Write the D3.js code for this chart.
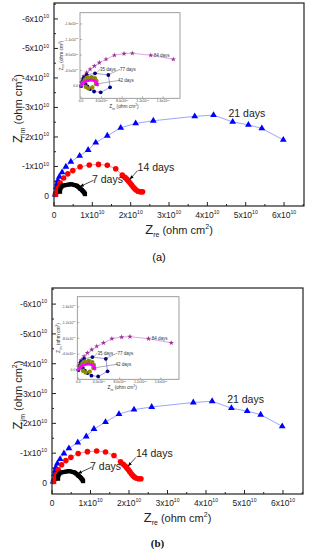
<!DOCTYPE html>
<html>
<head>
<meta charset="utf-8">
<script src="https://cdn.jsdelivr.net/npm/d3@7/dist/d3.min.js"></script>
<style>
body { margin: 0; background: #fff; }
svg { display: block; font-family: Arial, "Liberation Sans", sans-serif; }
</style>
</head>
<body>
<svg id="fig" width="312" height="550"></svg>
<script>
// main plot values, in units of 1e10 ohm cm2
var zre7  = [0.16, 0.16, 0.18, 0.20, 0.23, 0.27, 0.31, 0.36, 0.40, 0.44, 0.48, 0.53, 0.57, 0.60, 0.63, 0.66, 0.68, 0.70, 0.73, 0.75, 0.77, 0.79, 0.80, 0.81];
var zim7  = [-0.14, -0.23, -0.28, -0.32, -0.35, -0.36, -0.37, -0.38, -0.39, -0.40, -0.39, -0.37, -0.36, -0.34, -0.31, -0.28, -0.25, -0.23, -0.20, -0.17, -0.14, -0.11, -0.08, -0.06];
var zre14 = [0.04, 0.08, 0.11, 0.16, 0.25, 0.36, 0.49, 0.68, 0.92, 1.16, 1.39, 1.61, 1.78, 1.85, 1.90, 1.94, 1.98, 2.02, 2.06, 2.10, 2.14, 2.19, 2.25, 2.31];
var zim14 = [-0.05, -0.15, -0.27, -0.44, -0.61, -0.75, -0.86, -0.99, -1.05, -1.07, -1.04, -0.92, -0.71, -0.63, -0.57, -0.51, -0.45, -0.38, -0.31, -0.25, -0.20, -0.16, -0.14, -0.14];
var zre21 = [0.03, 0.05, 0.06, 0.08, 0.10, 0.14, 0.21, 0.31, 0.44, 0.67, 0.89, 1.09, 1.39, 1.74, 2.13, 2.59, 3.67, 4.16, 4.66, 5.07, 5.42, 5.98];
var zim21 = [-0.05, -0.15, -0.29, -0.41, -0.52, -0.65, -0.80, -0.99, -1.16, -1.36, -1.56, -1.81, -2.04, -2.31, -2.46, -2.55, -2.70, -2.74, -2.51, -2.41, -2.29, -1.90];
var xTicks = [0, 1, 2, 3, 4, 5, 6];
var yTicks = [0, -1, -2, -3, -4, -5, -6];

// inset values, in units of 1e11 ohm cm2
var zre35 = [0.1, 0.2, 0.5, 0.9, 1.3, 1.7, 2.1, 2.5, 2.8, 3.0, 3.1, 3.2];
var zim35 = [-0.2, -0.5, -0.9, -1.2, -1.4, -1.5, -1.5, -1.4, -1.2, -0.9, -0.6, -0.3];
var zre42 = [0.4, 0.8, 1.3, 2.0, 2.7, 3.0, 2.9, 2.2, 1.4, 0.9];
var zim42 = [-0.9, -1.7, -2.2, -2.3, -2.0, -1.3, -0.5, 0.4, 0.6, 0.2];
var zre77 = [0, 0.2, 0.49, 1.11, 2.73, 5.33, 5.66, 3.84, 2.54, 1.76, 1.27, 0.88];
var zim77 = [0, -1.03, -2.06, -2.84, -3.28, -2.84, 0.34, 1.63, 1.42, 0.77, 0.13, -0.52];
var zre84 = [0, 0.06, 0.25, 0.59, 1.11, 1.76, 2.6, 3.57, 4.88, 6.5, 8.39, 10.0, 13.6, 18.0];
var zim84 = [0, -0.85, -1.73, -2.58, -3.43, -4.31, -5.16, -6.01, -6.89, -7.92, -8.34, -8.44, -7.92, -6.89];
var inXTicks = [0, 4, 8, 12, 16];
var inXLabels = ["0.0", "4.0x10", "8.0x10", "1.2x10", "1.6x10"];
var inYTicks = [0, -4, -8, -12, -16];
var inYLabels = ["0.0", "-4.0x10", "-8.0x10", "-1.2x10", "-1.6x10"];
var inExps = ["", "11", "11", "12", "12"];

function zip(a, b) { return a.map(function(v, i) { return [v, b[i]]; }); }

var svg = d3.select("#fig");
svg.append("defs").append("marker")
  .attr("id", "arr").attr("viewBox", "0 0 10 10").attr("refX", 9).attr("refY", 5)
  .attr("markerWidth", 6).attr("markerHeight", 6).attr("orient", "auto")
  .append("path").attr("d", "M0,1L10,5L0,9z").attr("fill", "#000");

// text with a superscript exponent
function supText(g, x, y, base, exp, size, anchor, col) {
  var t = g.append("text").attr("x", x).attr("y", y)
    .attr("font-size", size).attr("text-anchor", anchor).attr("fill", col || "#222");
  t.append("tspan").text(base);
  if (exp) t.append("tspan").attr("dy", -size * 0.45).attr("font-size", size * 0.6).text(exp);
  return t;
}

var panels = [
  { cap: "(a)", capFont: "Arial, 'Liberation Sans', sans-serif", capBold: false, capY: 261,
    box: { l: 54, r: 304, t: 3, b: 206 }, xDom: [0, 6.52], yDom: [0.34, -6.54], xLabY: 234,
    inset: { l: 80, r: 180, t: 12.7, b: 98.3, xDom: [-0.2, 19.3], yDom: [3.17, -18.9] } },
  { cap: "(b)", capFont: "'Liberation Serif', 'DejaVu Serif', serif", capBold: true, capY: 547,
    box: { l: 52, r: 303, t: 288, b: 494 }, xDom: [0, 6.52], yDom: [0.37, -6.54], xLabY: 522,
    inset: { l: 77.3, r: 179, t: 296.7, b: 379.3, xDom: [-0.2, 19.5], yDom: [2.35, -18.56] } }
];

panels.forEach(function(p) {
  var g = svg.append("g");
  var x = d3.scaleLinear().domain(p.xDom).range([p.box.l, p.box.r]);
  var y = d3.scaleLinear().domain(p.yDom).range([p.box.b, p.box.t]);

  // ticks, pointing inward
  var xMinor = d3.range(0.5, 6.6, 1);
  var yMinor = d3.range(-0.5, -6.6, -1);
  xTicks.forEach(function(v) {
    g.append("line").attr("x1", x(v)).attr("x2", x(v)).attr("y1", p.box.b).attr("y2", p.box.b - 4).attr("stroke", "#222");
    supText(g, x(v), p.box.b + 12, v === 0 ? "0" : v + "x10", v === 0 ? "" : "10", 8.5, "middle");
  });
  xMinor.forEach(function(v) {
    g.append("line").attr("x1", x(v)).attr("x2", x(v)).attr("y1", p.box.b).attr("y2", p.box.b - 2).attr("stroke", "#222");
  });
  yTicks.forEach(function(v) {
    g.append("line").attr("x1", p.box.l).attr("x2", p.box.l + 4).attr("y1", y(v)).attr("y2", y(v)).attr("stroke", "#222");
    supText(g, p.box.l - 5, y(v) + 3, v === 0 ? "0" : v + "x10", v === 0 ? "" : "10", 8.5, "end");
  });
  yMinor.forEach(function(v) {
    g.append("line").attr("x1", p.box.l).attr("x2", p.box.l + 2).attr("y1", y(v)).attr("y2", y(v)).attr("stroke", "#222");
  });

  var line = d3.line().x(function(d) { return x(d[0]); }).y(function(d) { return y(d[1]); });

  // 21 days
  var d21 = zip(zre21, zim21);
  g.append("path").attr("d", line(d21)).attr("fill", "none").attr("stroke", "#7f8fff").attr("stroke-width", 0.8);
  g.selectAll(".t21").data(d21).enter().append("path")
    .attr("d", d3.symbol(d3.symbolTriangle, 20)())
    .attr("transform", function(d) { return "translate(" + x(d[0]) + "," + y(d[1]) + ")"; })
    .attr("fill", "#0000ff");
  // 14 days
  var d14 = zip(zre14, zim14);
  g.append("path").attr("d", line(d14)).attr("fill", "none").attr("stroke", "#ff6060").attr("stroke-width", 0.7);
  g.selectAll(".c14").data(d14).enter().append("circle")
    .attr("cx", function(d) { return x(d[0]); }).attr("cy", function(d) { return y(d[1]); })
    .attr("r", 2.8).attr("fill", "#ff0000");
  // 7 days
  var d7 = zip(zre7, zim7);
  g.append("path").attr("d", line(d7)).attr("fill", "none").attr("stroke", "#000").attr("stroke-width", 0.7);
  g.selectAll(".s7").data(d7).enter().append("rect")
    .attr("x", function(d) { return x(d[0]) - 2; }).attr("y", function(d) { return y(d[1]) - 2; })
    .attr("width", 4).attr("height", 4).attr("fill", "#000");

  // annotations
  g.append("text").attr("x", x(4.55)).attr("y", y(-2.81) + 4).attr("font-size", 10.5).attr("fill", "#222").text("21 days");
  g.append("text").attr("x", x(2.18)).attr("y", y(-0.99) + 4).attr("font-size", 10.5).attr("fill", "#222").text("14 days");
  g.append("line").attr("x1", x(2.18)).attr("y1", y(-0.86)).attr("x2", x(1.98)).attr("y2", y(-0.57))
    .attr("stroke", "#000").attr("stroke-width", 0.7).attr("marker-end", "url(#arr)");
  g.append("text").attr("x", x(0.99)).attr("y", y(-0.56) + 4).attr("font-size", 10.5).attr("fill", "#222").text("7 days");
  g.append("line").attr("x1", x(1.03)).attr("y1", y(-0.53)).attr("x2", x(0.68)).attr("y2", y(-0.32))
    .attr("stroke", "#000").attr("stroke-width", 0.7).attr("marker-end", "url(#arr)");

  // frame
  g.append("rect").attr("x", p.box.l).attr("y", p.box.t).attr("width", p.box.r - p.box.l).attr("height", p.box.b - p.box.t)
    .attr("fill", "none").attr("stroke", "#222").attr("stroke-width", 1.2);

  // axis titles
  var cy = (p.box.t + p.box.b) / 2;
  var yt = g.append("text").attr("transform", "translate(22," + (cy + 4) + ") rotate(-90)")
    .attr("text-anchor", "middle").attr("font-size", 11).attr("fill", "#222");
  yt.append("tspan").attr("font-size", 13).text("Z");
  yt.append("tspan").attr("dy", 3).attr("font-size", 7).text("im");
  yt.append("tspan").attr("dy", -3).text(" (ohm cm");
  yt.append("tspan").attr("dy", -5).attr("font-size", 7).text("2");
  yt.append("tspan").attr("dy", 5).text(")");

  var xt = g.append("text").attr("x", (p.box.l + p.box.r) / 2).attr("y", p.xLabY)
    .attr("text-anchor", "middle").attr("font-size", 11).attr("fill", "#222");
  xt.append("tspan").attr("font-size", 13).text("Z");
  xt.append("tspan").attr("dy", 3).attr("font-size", 7).text("re");
  xt.append("tspan").attr("dy", -3).text(" (ohm cm");
  xt.append("tspan").attr("dy", -5).attr("font-size", 7).text("2");
  xt.append("tspan").attr("dy", 5).text(")");

  g.append("text").attr("x", (p.box.l + p.box.r) / 2 - 20).attr("y", p.capY).attr("text-anchor", "middle")
    .attr("font-family", p.capFont).attr("font-weight", p.capBold ? "bold" : "normal")
    .attr("font-size", 11).attr("fill", "#111").text(p.cap);

  // inset
  var q = p.inset;
  var ix = d3.scaleLinear().domain(q.xDom).range([q.l, q.r]);
  var iy = d3.scaleLinear().domain(q.yDom).range([q.b, q.t]);
  var ig = g.append("g");
  ig.append("rect").attr("x", q.l).attr("y", q.t).attr("width", q.r - q.l).attr("height", q.b - q.t)
    .attr("fill", "#fff").attr("stroke", "none");

  inXTicks.forEach(function(v, i) {
    ig.append("line").attr("x1", ix(v)).attr("x2", ix(v)).attr("y1", q.b).attr("y2", q.b - 2).attr("stroke", "#666").attr("stroke-width", 0.5);
    supText(ig, ix(v), q.b + 4, inXLabels[i], inExps[i], 3.4, "middle", "#444");
  });
  inYTicks.forEach(function(v, i) {
    ig.append("line").attr("x1", q.l).attr("x2", q.l + 2).attr("y1", iy(v)).attr("y2", iy(v)).attr("stroke", "#666").attr("stroke-width", 0.5);
    supText(ig, q.l - 2, iy(v) + 1.2, inYLabels[i], inExps[i], 3.4, "end", "#444");
  });

  var iline = d3.line().x(function(d) { return ix(d[0]); }).y(function(d) { return iy(d[1]); });

  var d84 = zip(zre84, zim84);
  ig.append("path").attr("d", iline(d84)).attr("fill", "none").attr("stroke", "#cc66cc").attr("stroke-width", 0.6);
  ig.selectAll(".s84").data(d84).enter().append("path")
    .attr("d", d3.symbol(d3.symbolStar, 9)())
    .attr("transform", function(d) { return "translate(" + ix(d[0]) + "," + iy(d[1]) + ")"; })
    .attr("fill", "#993399");

  var d77 = zip(zre77, zim77);
  ig.append("path").attr("d", iline(d77)).attr("fill", "none").attr("stroke", "#5a5ad0").attr("stroke-width", 0.6);
  ig.selectAll(".h77").data(d77).enter().append("circle")
    .attr("cx", function(d) { return ix(d[0]); }).attr("cy", function(d) { return iy(d[1]); })
    .attr("r", 1.9).attr("fill", "#000080");

  var d42 = zip(zre42, zim42);
  ig.selectAll(".c42").data(d42).enter().append("circle")
    .attr("cx", function(d) { return ix(d[0]); }).attr("cy", function(d) { return iy(d[1]); })
    .attr("r", 2.2).attr("fill", "#8c8c00");

  var d35 = zip(zre35, zim35);
  ig.append("path").attr("d", iline(d35)).attr("fill", "none").attr("stroke", "#ff66ff").attr("stroke-width", 0.6);
  ig.selectAll(".c35").data(d35).enter().append("circle")
    .attr("cx", function(d) { return ix(d[0]); }).attr("cy", function(d) { return iy(d[1]); })
    .attr("r", 1.6).attr("fill", "#ff00ff");

  // inset labels
  function ilab(tx, ty, s, px, py) {
    if (px !== undefined) {
      ig.append("line").attr("x1", ix(px)).attr("y1", iy(py)).attr("x2", ix(tx)).attr("y2", iy(ty))
        .attr("stroke", "#333").attr("stroke-width", 0.4);
    }
    ig.append("text").attr("x", ix(tx)).attr("y", iy(ty) + 1.5).attr("font-size", 4.5).attr("fill", "#333").text(s);
  }
  ilab(3.7, -4.3, "35 days", 1.4, -1.3);
  ilab(7.6, -4.3, "77 days", 5.3, -2.9);
  ilab(7.2, -1.4, "42 days", 2.9, -0.5);
  ilab(14.2, -7.9, "84 days");

  // inset axis titles
  var icy = (q.t + q.b) / 2;
  var iyt = ig.append("text").attr("transform", "translate(" + (q.l - 17) + "," + icy + ") rotate(-90)")
    .attr("text-anchor", "middle").attr("font-size", 4.8).attr("fill", "#333");
  iyt.append("tspan").text("Z");
  iyt.append("tspan").attr("dy", 1.2).attr("font-size", 3.3).text("im");
  iyt.append("tspan").attr("dy", -1.2).text(" (ohm cm");
  iyt.append("tspan").attr("dy", -2).attr("font-size", 3.3).text("2");
  iyt.append("tspan").attr("dy", 2).text(")");

  var ixt = ig.append("text").attr("x", (q.l + q.r) / 2 - 6).attr("y", q.b + 10)
    .attr("text-anchor", "middle").attr("font-size", 4.8).attr("fill", "#333");
  ixt.append("tspan").text("Z");
  ixt.append("tspan").attr("dy", 1.2).attr("font-size", 3.3).text("re");
  ixt.append("tspan").attr("dy", -1.2).text(" (ohm cm");
  ixt.append("tspan").attr("dy", -2).attr("font-size", 3.3).text("2");
  ixt.append("tspan").attr("dy", 2).text(")");

  ig.append("rect").attr("x", q.l).attr("y", q.t).attr("width", q.r - q.l).attr("height", q.b - q.t)
    .attr("fill", "none").attr("stroke", "#888").attr("stroke-width", 0.8);
});
</script>
</body>
</html>
